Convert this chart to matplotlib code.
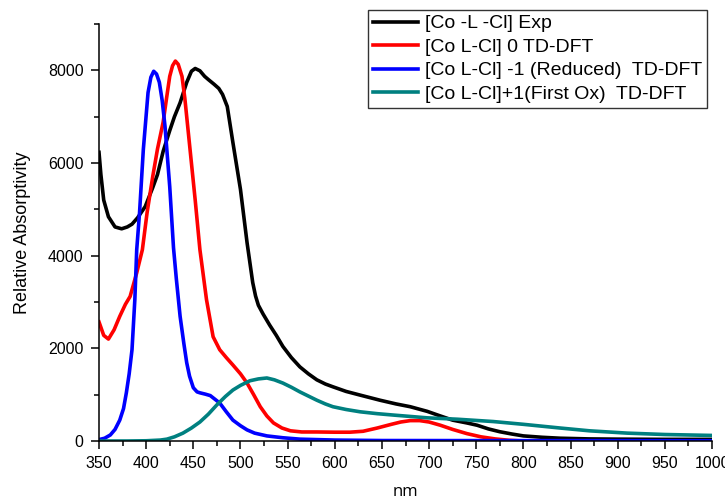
import numpy as np
import matplotlib
matplotlib.use("Agg")
import matplotlib.pyplot as plt
from matplotlib.ticker import MultipleLocator

plt.rcParams['font.family'] = ['Liberation Sans', 'DejaVu Sans']

# experimental spectrum
exp_nm = [350, 352, 355, 360, 367, 374, 380, 385, 391, 399, 407, 412, 418, 425, 430,
          436, 443, 448, 452, 457, 462, 466, 472, 477, 481, 486, 492, 500, 507, 510,
          513, 516, 519, 524, 531, 538, 545, 554, 563, 572, 581, 590, 598, 612, 627, 648, 665,
          680, 698, 712, 725, 740, 751, 763, 775, 788, 800, 820, 839, 870, 900, 950, 1000]
exp_abs = [6230, 5750, 5200, 4840, 4620, 4580, 4620, 4680, 4820, 5060, 5470, 5750, 6250, 6700, 7000,
           7300, 7740, 7980, 8040, 7990, 7870, 7800, 7700, 7610, 7480, 7220, 6440, 5430, 4280, 3850,
           3420, 3130, 2930, 2740, 2500, 2280, 2040, 1800, 1600, 1450, 1320, 1230, 1170, 1070, 990, 880, 800,
           740, 640, 540, 450, 390, 340, 260, 200, 150, 110, 80, 60, 45, 40, 35, 35]

# neutral complex, TD-DFT
neu_nm = [350, 355, 360, 366, 372, 378, 383, 390, 396, 401, 407, 412, 418, 422, 425, 428,
          431, 434, 438, 441, 444, 448, 452, 457, 464, 471, 478, 485, 492, 500, 507, 514,
          521, 528, 535, 544, 553, 565, 581, 600, 616, 630, 645, 660, 670, 680, 690, 700,
          712, 725, 740, 755, 770, 785, 800, 1000]
neu_abs = [2570, 2280, 2200, 2400, 2690, 2950, 3120, 3630, 4130, 4930, 5710, 6300, 6880, 7450, 7870, 8100,
           8200, 8130, 7870, 7400, 6800, 6000, 5200, 4130, 3050, 2250, 1970, 1800, 1640, 1450, 1250, 1000,
           740, 540, 390, 280, 220, 195, 195, 190, 190, 210, 280, 360, 410, 440, 440, 410,
           340, 250, 160, 90, 45, 15, 0, 0]

# reduced complex, TD-DFT
red_nm = [350, 356, 362, 367, 372, 376, 379, 382, 385, 388, 390, 393, 397, 402, 405, 408,
          411, 414, 417, 420, 425, 429, 432, 436, 440, 443, 446, 450, 454, 457, 463, 468,
          473, 478, 485, 492, 500, 507, 515, 528, 545, 563, 600, 650, 1000]
red_abs = [30, 60, 130, 250, 450, 700, 1040, 1450, 1970, 3050, 4130, 4930, 6290, 7520, 7850, 7980,
           7920, 7740, 7350, 6790, 5490, 4170, 3500, 2690, 2100, 1690, 1400, 1150, 1060, 1040, 1010, 980,
           900, 820, 630, 450, 330, 240, 170, 110, 70, 40, 20, 10, 5]

# first oxidised complex, TD-DFT
ox_nm = [350, 380, 400, 415, 422, 430, 439, 448, 457, 466, 475, 484, 492, 500, 510, 519,
         528, 536, 545, 554, 563, 572, 581, 590, 598, 612, 627, 645, 662, 680, 698, 730,
         768, 800, 839, 870, 910, 950, 1000]
ox_abs = [0, 0, 5, 20, 40, 90, 170, 280, 410, 580, 780, 960, 1100, 1200, 1300, 1340,
          1360, 1320, 1250, 1160, 1060, 970, 880, 800, 740, 680, 630, 590, 560, 530, 500, 470,
          420, 360, 280, 220, 170, 140, 120]

labels = ['[Co -L -Cl] Exp',
          '[Co L-Cl] 0 TD-DFT',
          '[Co L-Cl] -1 (Reduced)  TD-DFT',
          '[Co L-Cl]+1(First Ox)  TD-DFT']

fig = plt.figure(figsize=(7.25, 5.04), dpi=100)
ax = fig.add_axes([99 / 725, 63 / 504, 613 / 725, 417 / 504])

lw = 2.6
ax.plot(exp_nm, exp_abs, color='black', lw=lw, label=labels[0])
ax.plot(neu_nm, neu_abs, color='#ff0000', lw=lw, label=labels[1])
ax.plot(red_nm, red_abs, color='#0000ff', lw=lw, label=labels[2])
ax.plot(ox_nm, ox_abs, color='#008080', lw=lw, label=labels[3])

ax.set_xlim(350, 1000)
ax.set_ylim(0, 9000)
ax.xaxis.set_major_locator(MultipleLocator(50))
ax.xaxis.set_minor_locator(MultipleLocator(25))
ax.yaxis.set_major_locator(MultipleLocator(2000))
ax.yaxis.set_minor_locator(MultipleLocator(1000))

for s in ['top', 'right']:
    ax.spines[s].set_visible(False)
for s in ['left', 'bottom']:
    ax.spines[s].set_linewidth(1.1)

ax.tick_params(which='major', direction='out', length=6, width=1.1, labelsize=11.5, pad=5)
ax.tick_params(which='minor', direction='out', length=3.5, width=1.1)

ax.set_ylabel('Relative Absorptivity', fontsize=13, labelpad=12)
ax.set_xlabel('nm', fontsize=12, family=['Open Sans', 'DejaVu Sans'], labelpad=9)

leg = fig.legend(loc='upper left', bbox_to_anchor=(368 / 725, 1 - 10 / 504),
                 fontsize=14, frameon=True, fancybox=False, edgecolor='black',
                 handlelength=2.3, handletextpad=0.4, labelspacing=0.3,
                 borderpad=0.25, borderaxespad=0)
leg.get_frame().set_linewidth(1.0)

fig.savefig('out.png', dpi=100)
